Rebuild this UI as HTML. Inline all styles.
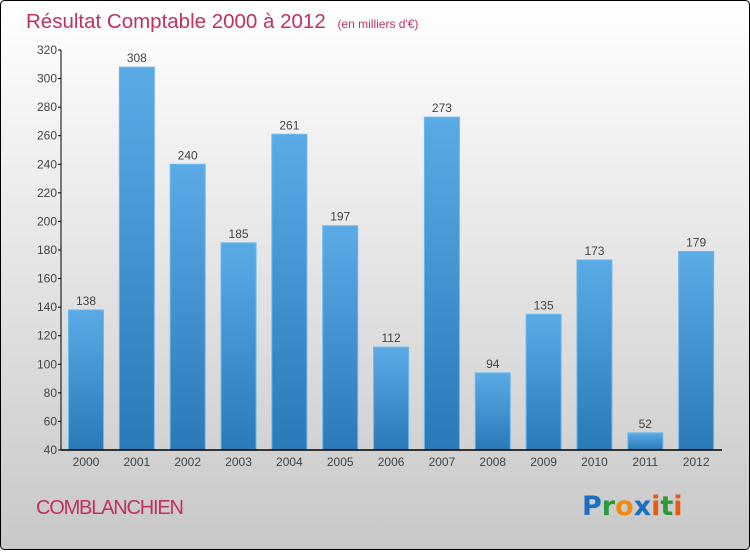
<!DOCTYPE html>
<html><head><meta charset="utf-8"><style>
html,body{margin:0;padding:0}
body{width:750px;height:550px;overflow:hidden;font-family:"Liberation Sans",sans-serif}
</style></head><body>
<svg width="750" height="550" xmlns="http://www.w3.org/2000/svg">
<defs>
<linearGradient id="bg" x1="0" y1="0" x2="0" y2="1"><stop offset="0" stop-color="#ffffff"/><stop offset="1" stop-color="#c8c8c8"/></linearGradient>
<linearGradient id="bar" x1="0" y1="0" x2="0" y2="1"><stop offset="0" stop-color="#5aaae6"/><stop offset="1" stop-color="#2a7ab8"/></linearGradient>
</defs>
<rect x="0.5" y="0.5" width="749" height="549" rx="4" fill="url(#bg)" stroke="#000"/>
<text x="26" y="28" font-size="20.5" fill="#c0325e">Résultat Comptable 2000 à 2012 <tspan font-size="12" dx="6">(en milliers d'€)</tspan></text>
<g id="plot"></g>
<text x="36" y="514" font-size="20" fill="#c0325e" letter-spacing="-1.2">COMBLANCHIEN</text>
<text x="582" y="515" font-size="27" font-weight="bold" font-family="DejaVu Sans, sans-serif"><tspan fill="#1a6fc0">P</tspan><tspan fill="#2a9a3a">r</tspan><tspan fill="#f08a10">o</tspan><tspan fill="#1a6fc0">x</tspan><tspan fill="#e85a10">i</tspan><tspan fill="#2a9a3a">t</tspan><tspan fill="#e85a10">i</tspan></text>
</svg>
<script>
const categories=["2000","2001","2002","2003","2004","2005","2006","2007","2008","2009","2010","2011","2012"];
const values=[138,308,240,185,261,197,112,273,94,135,173,52,179];
const yTicks=[40,60,80,100,120,140,160,180,200,220,240,260,280,300,320];
const NS="http://www.w3.org/2000/svg";
const g=document.getElementById('plot');
const x0=61,x1=722,yTop=50,yBot=450,vMin=40,vMax=320;
const band=(x1-x0)/categories.length;
const y=v=>yBot-(v-vMin)/(vMax-vMin)*(yBot-yTop);
function mk(t,a){const e=document.createElementNS(NS,t);for(const k in a)e.setAttribute(k,a[k]);g.appendChild(e);return e;}
categories.forEach((c,i)=>{
 const bx=x0+i*band+7.5,top=y(values[i]);
 const r=mk('rect',{x:bx,y:top,width:35,height:yBot-top,fill:'url(#bar)',stroke:'#6ab8ee','stroke-width':1});
 
 
 const t=mk('text',{x:bx+17.5,y:top-5,'font-size':12,fill:'#444','text-anchor':'middle'});
 t.textContent=values[i];
 
 
 const xl=mk('text',{x:bx+17.5,y:466,'font-size':12,fill:'#444','text-anchor':'middle'});
 xl.textContent=c;
 
 
});
yTicks.forEach(v=>{
 const ty=y(v);
 const l=mk('line',{x1:x0-3,x2:x0,y1:ty,y2:ty,stroke:'#000'});
 
 
 const t=mk('text',{x:x0-4,y:ty+4,'font-size':12,fill:'#444','text-anchor':'end'});
 t.textContent=v;
 
 
});
const ya=mk('line',{x1:x0,x2:x0,y1:yTop,y2:yBot,stroke:'#000'});


const xa=mk('line',{x1:x0,x2:x1,y1:yBot,y2:yBot,stroke:'#000','stroke-width':1.5});


</script>
</body></html>
